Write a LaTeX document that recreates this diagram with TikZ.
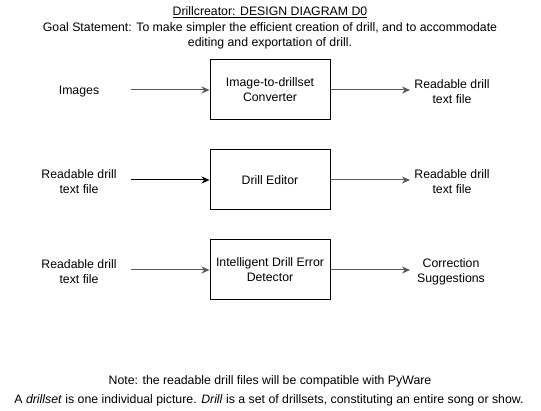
\documentclass[tikz,border=0pt]{standalone}
\usepackage{fontspec}
\setmainfont{Liberation Sans}
\usetikzlibrary{arrows.meta}
\begin{document}
\begin{tikzpicture}[x=1pt,y=-1pt,
  every node/.style={font=\fontsize{12.3}{15}\selectfont, align=center, inner sep=0pt},
  procbox/.style={draw=black, line width=1pt, minimum width=120pt, minimum height=60pt, text depth=0pt},
  lbl/.style={text=black, yshift=-1.5pt},
  flow/.style={draw=black!65, line width=1pt, -{Stealth[length=8pt,width=7pt]}},
  flowdark/.style={draw=black, line width=1pt, -{Stealth[length=8pt,width=7pt]}}]
\useasboundingbox (0,0) rectangle (541,411);
\node (title) at (270,12) {\underline{Drillcreator: DESIGN DIAGRAM D0}};
\node (goal) at (270,35.5) {Goal Statement: To make simpler the efficient creation of drill, and to accommodate\\editing and exportation of drill.};

\node[procbox] (b1) at (270,90) {Image-to-drillset\\Converter};
\node[procbox] (b2) at (270,180) {Drill Editor};
\node[procbox] (b3) at (270,270) {Intelligent Drill Error\\Detector};

\node[lbl] (in1) at (79,90) {Images};
\node[lbl] (in2) at (79,180) {Readable drill\\text file};
\node[lbl] (in3) at (79,270) {Readable drill\\text file};
\node[lbl] (out1) at (452,90) {Readable drill\\text file};
\node[lbl] (out2) at (452,180) {Readable drill\\text file};
\node[lbl] (out3) at (451,270) {Correction\\Suggestions};

\coordinate (s1) at (131,90);
\coordinate (s2) at (131,180);
\coordinate (s3) at (131,270);
\coordinate (e1) at (410,90);
\coordinate (e2) at (410,180);
\coordinate (e3) at (410,270);

\draw[flow] (s1) -- (b1.west);
\draw[flowdark] (s2) -- (b2.west);
\draw[flow] (s3) -- (b3.west);
\draw[flow] (b1.east) -- (e1);
\draw[flow] (b2.east) -- (e2);
\draw[flow] (b3.east) -- (e3);

\node (note) at (270,381) {Note: the readable drill files will be compatible with PyWare};
\node (def) at (269,400) {A \textit{drillset} is one individual picture. \textit{Drill} is a set of drillsets, constituting an entire song or show.};
\end{tikzpicture}
\end{document}
